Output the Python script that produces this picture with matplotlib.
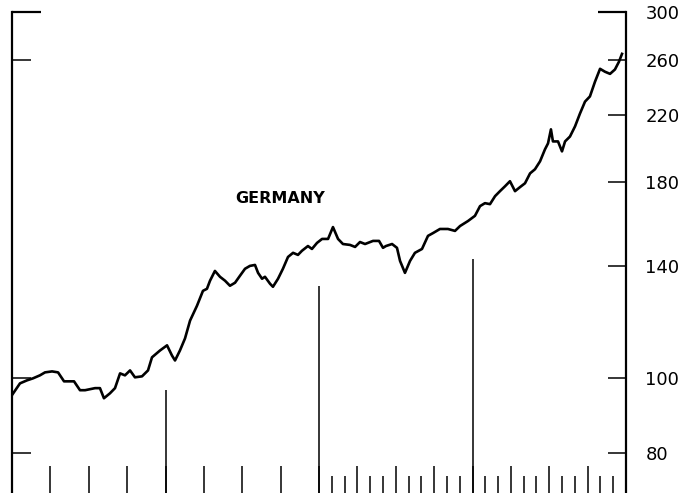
import matplotlib
matplotlib.use("Agg")
import matplotlib.pyplot as plt
import numpy as np

# time in years from start of chart
t = [0.000, 0.052, 0.098, 0.137, 0.182, 0.215, 0.261, 0.300, 0.339, 0.378, 0.404,
     0.443, 0.476, 0.541, 0.573, 0.599, 0.638, 0.671, 0.704, 0.736, 0.769, 0.801,
     0.847, 0.886, 0.912, 0.964, 1.010, 1.042, 1.062, 1.094, 1.127, 1.160, 1.205,
     1.244, 1.270, 1.290, 1.322, 1.355, 1.388, 1.420, 1.453, 1.485, 1.518, 1.550,
     1.583, 1.603, 1.629, 1.648, 1.681, 1.700, 1.733, 1.765, 1.798, 1.831, 1.863,
     1.889, 1.928, 1.954, 1.987, 2.020, 2.059, 2.091, 2.124, 2.156, 2.202, 2.235,
     2.267, 2.300, 2.352, 2.391, 2.417, 2.436, 2.476, 2.508, 2.528, 2.560, 2.593,
     2.625, 2.671, 2.710, 2.743, 2.788, 2.840, 2.886, 2.919, 2.971, 3.016, 3.049,
     3.081, 3.114, 3.147, 3.179, 3.212, 3.244, 3.277, 3.309, 3.342, 3.375, 3.407,
     3.440, 3.472, 3.492, 3.511, 3.524, 3.557, 3.583, 3.603, 3.635, 3.668, 3.700,
     3.733, 3.765, 3.798, 3.831, 3.863, 3.896, 3.928, 3.954, 3.974]
germany = [95.1, 98.5, 99.4, 100.0, 100.9, 101.8, 102.1, 101.8, 99.1, 99.1, 99.1,
           96.5, 96.5, 97.1, 97.1, 94.2, 95.6, 97.1, 101.5, 100.9, 102.4, 100.3,
           100.6, 102.4, 106.5, 108.7, 110.4, 107.1, 105.5, 108.7, 112.7, 118.9, 124.3,
           130.0, 130.8, 134.0, 138.0, 135.6, 134.0, 132.0, 133.2, 136.0, 138.9, 140.1,
           140.5, 137.2, 134.8, 135.6, 132.8, 131.6, 134.8, 138.9, 143.9, 145.7, 144.8,
           146.6, 148.7, 147.4, 150.1, 151.9, 151.9, 157.4, 151.9, 149.6, 149.2, 148.3,
           150.5, 149.6, 151.0, 151.0, 147.9, 148.7, 149.6, 147.9, 142.2, 137.2, 142.2,
           145.7, 147.4, 153.3, 154.6, 156.5, 156.5, 155.6, 157.9, 160.3, 162.8, 167.6,
           169.1, 168.6, 172.7, 175.3, 177.9, 180.6, 175.3, 177.4, 179.5, 184.9, 187.2,
           191.7, 198.7, 202.3, 211.0, 203.5, 203.5, 197.5, 203.5, 206.5, 212.9, 221.2,
           229.3, 232.9, 243.4, 253.0, 250.8, 249.2, 252.5, 258.4, 264.6]

# year separator lines (position in years, top value)
year_marks = [1, 2, 3]
year_tops = [96.5, 132.0, 143.0]

right_ticks = [80, 100, 140, 180, 220, 260, 300]
left_ticks = [80, 100, 260]
label = "GERMANY"

fig = plt.figure(figsize=(6.85, 4.93), dpi=100)
ax = fig.add_axes([12 / 685, 0.0, 614 / 685, 481 / 493])
ax.set_yscale("log")
ax.set_ylim(70.9, 300)
ax.set_xlim(0, 4)

ax.plot(t, germany, color="black", lw=1.9, solid_joinstyle="round")
ax.vlines(year_marks, 70.9, year_tops, color="black", lw=1.1)

# spines
for s in ["top", "bottom"]:
    ax.spines[s].set_visible(False)
for s in ["left", "right"]:
    ax.spines[s].set_linewidth(1.6)
# partial top frame
ax.plot([0, 29 / 614], [1, 1], transform=ax.transAxes, color="black", lw=1.6,
        solid_capstyle="butt", clip_on=False)
ax.plot([1 - 28 / 614, 1], [1, 1], transform=ax.transAxes, color="black", lw=1.6,
        solid_capstyle="butt", clip_on=False)

# x ticks: quarterly major, monthly minor in last two years
ax.set_xticks(np.arange(0.25, 4, 0.25))
ax.set_xticks(np.arange(2 + 1 / 12, 4, 1 / 12), minor=True)
ax.tick_params(axis="x", which="major", direction="in", length=19.5, width=1.1,
               labelbottom=False, bottom=True)
ax.tick_params(axis="x", which="minor", direction="in", length=12.2, width=1.1,
               labelbottom=False, bottom=True)

# left ticks
ax.yaxis.set_major_locator(matplotlib.ticker.FixedLocator(left_ticks))
ax.yaxis.set_minor_locator(matplotlib.ticker.NullLocator())
ax.tick_params(axis="y", which="major", direction="in", length=14, width=1.1,
               left=True, right=False, labelleft=False)

# right ticks with labels
ax2 = ax.twinx()
ax2.set_yscale("log")
ax2.set_ylim(70.9, 300)
ax2.yaxis.set_major_locator(matplotlib.ticker.FixedLocator(right_ticks))
ax2.yaxis.set_minor_locator(matplotlib.ticker.NullLocator())
ax2.set_yticklabels([str(v) for v in right_ticks])
ax2.tick_params(axis="y", which="major", direction="in", length=13, width=1.1,
                labelsize=13, pad=14)
for s in ["top", "bottom", "left", "right"]:
    ax2.spines[s].set_visible(False)

ax.text(1.75, 171.5, label, ha="center", va="center", fontsize=11.5,
        fontweight="bold", family="DejaVu Sans")

fig.savefig("out.png", dpi=100)
